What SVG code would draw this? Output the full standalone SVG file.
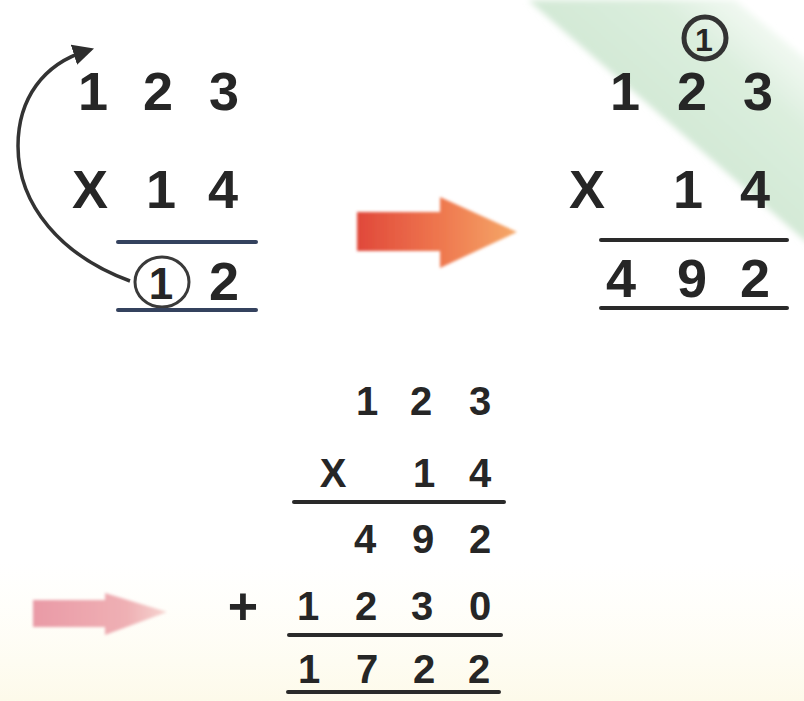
<svg xmlns="http://www.w3.org/2000/svg" width="804" height="701" viewBox="0 0 804 701">
<defs>
<style>
.d{font-family:"Liberation Sans",Arial,sans-serif;font-weight:bold;fill:#262626;text-anchor:middle}
.big{font-size:54px}
.sm{font-size:40px}
.ln{stroke:#2a2a2a;stroke-width:4;stroke-linecap:round}
.lnb{stroke:#34425e;stroke-width:4;stroke-linecap:round}
</style>
<linearGradient id="og" x1="0" y1="0" x2="1" y2="0">
<stop offset="0" stop-color="#e0483a"/>
<stop offset="0.55" stop-color="#ef7a50"/>
<stop offset="1" stop-color="#f5a868"/>
</linearGradient>
<linearGradient id="pg" x1="0" y1="0" x2="1" y2="0">
<stop offset="0" stop-color="#e99aa6"/>
<stop offset="0.7" stop-color="#efb0b4"/>
<stop offset="1" stop-color="#f6d4d0"/>
</linearGradient>
<linearGradient id="gg" gradientUnits="userSpaceOnUse" x1="667" y1="120" x2="765" y2="10">
<stop offset="0" stop-color="#d3e9d6"/>
<stop offset="0.55" stop-color="#dbeedd"/>
<stop offset="1" stop-color="#f6fbf6"/>
</linearGradient>
<linearGradient id="cg" x1="0" y1="0" x2="0" y2="1">
<stop offset="0" stop-color="#fffdf3" stop-opacity="0"/>
<stop offset="1" stop-color="#fdfaea"/>
</linearGradient>
<filter id="bl" x="-10%" y="-10%" width="120%" height="120%"><feGaussianBlur stdDeviation="1.5"/></filter>
<filter id="bl4" x="-10%" y="-10%" width="120%" height="120%"><feGaussianBlur stdDeviation="3"/></filter>
<marker id="ah" viewBox="0 0 10 10" refX="6" refY="5" markerWidth="6" markerHeight="6" orient="auto" markerUnits="strokeWidth">
<path d="M0,0 L10,5 L0,10 Z" fill="#2e2e2e"/>
</marker>
</defs>
<rect width="804" height="701" fill="#ffffff"/>
<g id="background">
<polygon points="528,0 735,0 810,62 810,245" fill="url(#gg)" filter="url(#bl4)"/>
<rect x="0" y="560" width="804" height="141" fill="url(#cg)"/>
</g>
<g id="step1">
<text class="d big" x="93" y="110">1</text>
<text class="d big" x="158" y="110">2</text>
<text class="d big" x="224" y="110">3</text>
<text class="d big" x="90" y="208">X</text>
<text class="d big" x="161" y="208">1</text>
<text class="d big" x="223" y="208">4</text>
<line class="lnb" x1="118" y1="242" x2="256" y2="242"/>
<ellipse cx="162" cy="282" rx="27" ry="25" fill="none" stroke="#3a3a3a" stroke-width="3"/>
<text class="d" x="161" y="299" font-size="44">1</text>
<text class="d big" x="224" y="300">2</text>
<line class="lnb" x1="118" y1="310" x2="256" y2="310"/>
</g>
<g id="connectors">
<path d="M130,281 C62,256 18,206 18,146 C18,98 44,64 86,51" fill="none" stroke="#333333" stroke-width="3.5" marker-end="url(#ah)"/>
</g>
<g id="arrow1" filter="url(#bl)">
<polygon points="357,212 440,212 440,197 517,232 440,268 440,251 357,251" fill="url(#og)"/>
</g>
<g id="step2">
<circle cx="705" cy="38" r="21" fill="none" stroke="#333333" stroke-width="5"/>
<text class="d" x="704" y="51" font-size="32">1</text>
<text class="d big" x="625" y="110">1</text>
<text class="d big" x="692" y="110">2</text>
<text class="d big" x="758" y="110">3</text>
<text class="d big" x="587" y="208">X</text>
<text class="d big" x="688" y="208">1</text>
<text class="d big" x="755" y="208">4</text>
<line class="ln" x1="601" y1="240" x2="787" y2="240" stroke-width="5"/>
<text class="d big" x="621" y="297">4</text>
<text class="d big" x="692" y="297">9</text>
<text class="d big" x="755" y="297">2</text>
<line class="ln" x1="601" y1="308" x2="787" y2="308" stroke-width="5"/>
</g>
<g id="arrow2" filter="url(#bl)">
<polygon points="33,600 105,600 105,593 167,612 105,635 105,627 33,627" fill="url(#pg)"/>
</g>
<g id="step3">
<text class="d sm" x="367" y="415">1</text>
<text class="d sm" x="421" y="415">2</text>
<text class="d sm" x="480" y="415">3</text>
<text class="d sm" x="333" y="487">X</text>
<text class="d sm" x="424" y="487">1</text>
<text class="d sm" x="480" y="487">4</text>
<line class="ln" x1="294" y1="502" x2="504" y2="502"/>
<text class="d sm" x="365" y="553">4</text>
<text class="d sm" x="423" y="553">9</text>
<text class="d sm" x="480" y="553">2</text>
<text class="d" x="243" y="624" font-size="52">+</text>
<text class="d sm" x="308" y="620">1</text>
<text class="d sm" x="366" y="620">2</text>
<text class="d sm" x="422" y="620">3</text>
<text class="d sm" x="480" y="620">0</text>
<line class="ln" x1="289" y1="635" x2="501" y2="635"/>
<text class="d sm" x="309" y="683">1</text>
<text class="d sm" x="367" y="683">7</text>
<text class="d sm" x="424" y="683">2</text>
<text class="d sm" x="479" y="683">2</text>
<line class="ln" x1="288" y1="692" x2="499" y2="692"/>
</g>
</svg>
